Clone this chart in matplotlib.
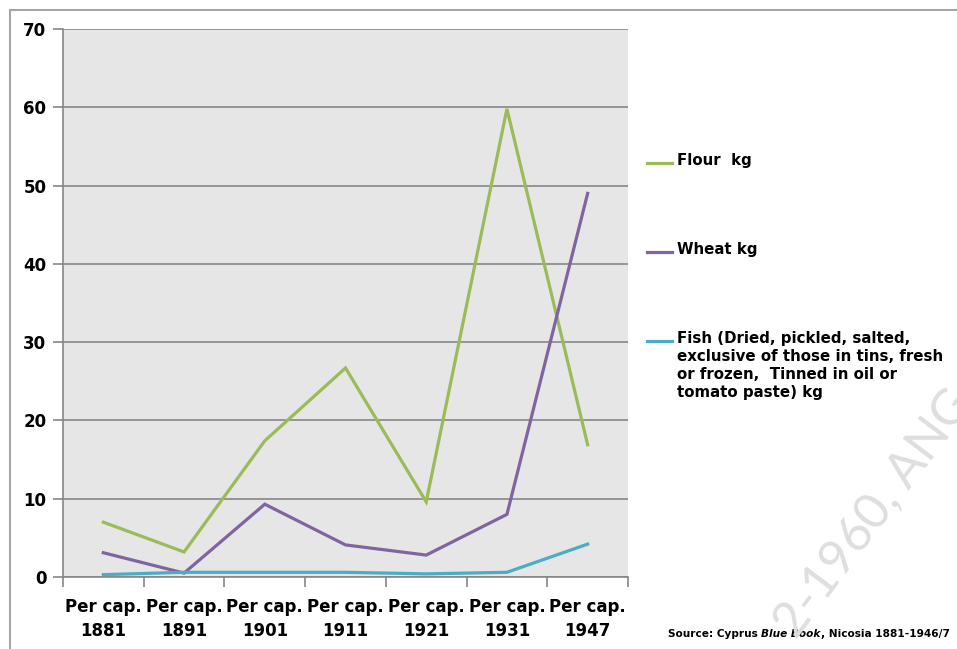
import matplotlib
matplotlib.use("Agg")
import matplotlib.pyplot as plt
from matplotlib.ticker import FixedLocator, NullFormatter

plt.rcParams['font.family'] = ['DejaVu Sans']

# data
years = ['1881', '1891', '1901', '1911', '1921', '1931', '1947']
labels = ['Per cap.\n' + y for y in years]
flour = [7.0, 3.2, 17.4, 26.7, 9.6, 59.8, 16.9]
wheat = [3.1, 0.5, 9.3, 4.1, 2.8, 8.0, 49.0]
fish = [0.3, 0.6, 0.6, 0.6, 0.4, 0.6, 4.2]
series_names = ['Flour  kg', 'Wheat kg',
                'Fish (Dried, pickled, salted,\nexclusive of those in tins, fresh\n'
                'or frozen,  Tinned in oil or\ntomato paste) kg']
colors = ['#9bbb59', '#8064a2', '#4bacc6']

fig = plt.figure(figsize=(9.57, 6.49), dpi=100)
ax = fig.add_axes([63 / 957, 1 - 577 / 649, 565 / 957, 548 / 649])

# outer chart frame
fig.patches.append(plt.Rectangle((10 / 957, -0.1), 1.2, 1 - 10 / 649 + 0.1,
                                 transform=fig.transFigure, fill=False,
                                 edgecolor='#a6a6a6', linewidth=1.5))

# watermark
fig.text(796 / 957, 1 - 640 / 649, '2-1960, ANG', rotation=53, fontsize=36,
         color='#dedede', ha='left', va='baseline', rotation_mode='anchor',
         family='Lato', zorder=0)

x = list(range(len(years)))
lines = []
for vals, c in zip([flour, wheat, fish], colors):
    ln, = ax.plot(x, vals, color=c, linewidth=2.3, solid_joinstyle='miter')
    lines.append(ln)

ax.set_facecolor('#e6e6e6')
ax.set_xlim(-0.5, len(years) - 0.5)
ax.set_ylim(0, 70)
ax.set_yticks(range(0, 71, 10))
ax.yaxis.grid(True, color='#868686', linewidth=1.2)
ax.set_axisbelow(True)
for s in ['top', 'right']:
    ax.spines[s].set_visible(False)
for s in ['left', 'bottom']:
    ax.spines[s].set_color('#868686')
    ax.spines[s].set_linewidth(1.2)

ax.set_xticks(x)
ax.set_xticklabels(labels, fontsize=12, fontweight='bold', linespacing=1.45)
ax.xaxis.set_minor_locator(FixedLocator([i - 0.5 for i in range(len(years) + 1)]))
ax.xaxis.set_minor_formatter(NullFormatter())
ax.tick_params(axis='x', which='major', length=0, pad=15)
ax.tick_params(axis='x', which='minor', length=7, color='#868686', width=1.2)
ax.tick_params(axis='y', length=7, color='#868686', width=1.2, pad=5,
               labelsize=12)
for t in ax.get_yticklabels():
    t.set_fontweight('bold')

# legend entries placed manually to match spacing
leg_y = [163, 252, 341]
for ln, name, yy, c in zip(lines, series_names, leg_y, colors):
    fy = 1 - yy / 649
    fig.add_artist(plt.Line2D([647 / 957, 672 / 957], [fy, fy], color=c,
                              linewidth=2.3, transform=fig.transFigure))
    fig.text(677 / 957, fy + 10 / 649, name, fontsize=10.8, fontweight='bold',
             ha='left', va='top', linespacing=1.25)

# source note
t1 = fig.text(668 / 957, 1 - 634 / 649, 'Source: Cyprus ', fontsize=7.6,
              fontweight='bold', va='center')
t2 = ax.annotate('Blue Book', xy=(1, 0), xycoords=t1, fontsize=7.6,
                 fontweight='bold', style='italic', va='bottom')
ax.annotate(', Nicosia 1881-1946/7', xy=(1, 0), xycoords=t2, fontsize=7.6,
            fontweight='bold', va='bottom', annotation_clip=False)

fig.savefig('out.png', dpi=100)
